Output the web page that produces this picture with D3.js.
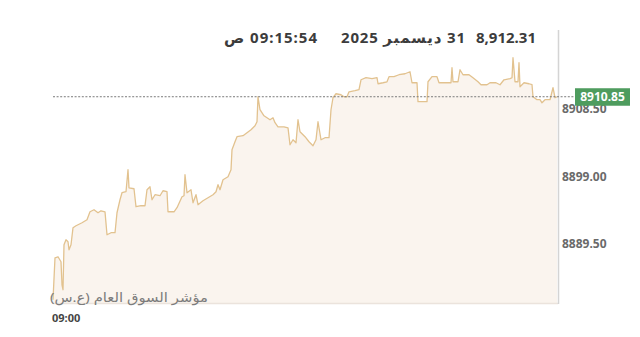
<!DOCTYPE html>
<html>
<head>
<meta charset="utf-8">
<script src="https://cdn.jsdelivr.net/npm/d3@7"></script>
<style>
    body { margin: 0; background: #ffffff; }
    text { font-family: "Noto Sans", "DejaVu Sans", sans-serif; }
</style>
</head>
<body>
<div id="canvas"></div>
<script>
"use strict"

/*Canvas size*/
let svgWidth = 640;
let svgHeight = 337;

/*Plot box*/
let plotLeft = 53
let plotRight = 557
let plotTop = 30
let plotBottom = 303

/*Seconds after 09:00:00 for every price tick*/
let tickSeconds = [0, 4, 10, 16, 18, 20, 22, 26, 30, 32, 36, 40, 46, 58, 68, 74, 82, 90, 96, 104,
    108, 116, 124, 128, 134, 138, 146, 150, 152, 162, 166, 176, 184, 188, 194, 198, 204, 214, 220, 228,
    230, 242, 248, 258, 262, 264, 268, 276, 280, 286, 290, 300, 310, 320, 326, 330, 334, 340, 350, 356,
    358, 364, 368, 380, 388, 396, 404, 408, 410, 414, 422, 428, 434, 440, 444, 450, 462, 470, 474, 480,
    486, 490, 494, 504, 512, 520, 526, 530, 536, 544, 552, 556, 560, 566, 576, 582, 588, 592, 604, 612,
    616, 626, 638, 648, 650, 660, 668, 672, 682, 692, 704, 714, 718, 728, 730, 738, 748, 750, 758, 768,
    772, 784, 796, 798, 800, 810, 814, 820, 832, 840, 850, 856, 868, 874, 886, 894, 902, 914, 918, 920,
    924, 930, 932, 934, 942, 952, 958, 960, 968, 974, 978, 984, 994, 1000, 1004, 1008];

/*Index value at each tick*/
let indexValues = [8882.26, 8888.17, 8888.31, 8887.61, 8884.37, 8883.67, 8890.00, 8890.71, 8890.43, 8889.30,
    8890.00, 8892.40, 8892.68, 8893.10, 8893.53, 8894.65, 8894.93, 8894.51, 8894.79, 8894.65,
    8891.41, 8891.70, 8891.70, 8894.51, 8896.34, 8897.33, 8897.47, 8900.57, 8898.03, 8897.89,
    8895.36, 8895.50, 8895.50, 8897.75, 8898.17, 8896.34, 8897.05, 8896.91, 8897.61, 8897.47,
    8894.65, 8894.65, 8895.22, 8896.77, 8896.91, 8899.86, 8897.33, 8897.75, 8895.92, 8897.05,
    8895.64, 8896.20, 8896.62, 8897.05, 8897.47, 8898.46, 8897.75, 8899.16, 8899.58, 8900.57,
    8903.39, 8904.51, 8905.22, 8905.36, 8905.78, 8906.20, 8906.77, 8907.33, 8910.85, 8909.02,
    8908.17, 8907.89, 8907.61, 8907.89, 8907.19, 8906.62, 8906.62, 8906.48, 8904.09, 8904.79,
    8904.37, 8907.61, 8905.92, 8905.22, 8904.51, 8903.95, 8904.79, 8907.33, 8904.79, 8905.08,
    8905.08, 8909.02, 8910.71, 8911.27, 8911.13, 8910.85, 8910.85, 8911.55, 8911.70, 8911.84,
    8913.24, 8913.53, 8913.39, 8913.53, 8912.68, 8912.82, 8912.96, 8913.67, 8913.67, 8913.95,
    8914.09, 8914.37, 8912.82, 8912.82, 8910.15, 8910.15, 8910.15, 8912.96, 8913.67, 8913.67,
    8912.82, 8912.82, 8912.82, 8914.93, 8912.96, 8912.96, 8914.65, 8913.95, 8913.95, 8913.53,
    8912.96, 8912.54, 8912.54, 8912.82, 8912.82, 8912.54, 8913.24, 8913.39, 8913.53, 8916.34,
    8912.96, 8912.96, 8915.64, 8912.26, 8912.82, 8912.68, 8912.54, 8910.85, 8910.43, 8910.43,
    8910.00, 8910.43, 8910.43, 8912.12, 8910.71, 8910.85];

/*Axis labels*/
let yTicks = [8889.50, 8899.00, 8908.50];
let xTickLabel = "09:00";
let lastValue = 8910.85;

/*Header texts*/
let headerValue = "8,912.31";
let headerDate = "31 ديسمبر 2025";
let headerTime = "09:15:54 ص";
let indexName = "مؤشر السوق العام (ع.س)";

let dataset = tickSeconds.map(function (s, i) {
    return { sec: s, value: indexValues[i] };
});

let svg = d3.select("#canvas")
    .append("svg")
    .attr("width", svgWidth)
    .attr("height", svgHeight);

/*Scales*/
let xScale = d3.scaleLinear()
    .domain([0, d3.max(tickSeconds)])
    .range([plotLeft, plotRight]);

let yScale = d3.scaleLinear()
    .domain([8881.8, 8920.25])
    .range([plotBottom, plotTop]);

/*Area under the line*/
let area = d3.area()
    .x(function (d) { return xScale(d.sec); })
    .y0(plotBottom)
    .y1(function (d) { return yScale(d.value); });

svg.append("path")
    .datum(dataset)
    .attr("d", area)
    .attr("fill", "#faf4ee");

/*Bottom edge of the plot*/
svg.append("line")
    .attr("x1", plotLeft)
    .attr("x2", plotRight + 1)
    .attr("y1", plotBottom + 0.5)
    .attr("y2", plotBottom + 0.5)
    .attr("stroke", "#ebe3dc")
    .attr("stroke-width", 1.5);

/*Price line*/
let line = d3.line()
    .x(function (d) { return xScale(d.sec); })
    .y(function (d) { return yScale(d.value); });

svg.append("path")
    .datum(dataset)
    .attr("d", line)
    .attr("fill", "none")
    .attr("stroke", "#e2c28f")
    .attr("stroke-width", 1.3)
    .attr("stroke-linejoin", "round");

/*Right border*/
svg.append("line")
    .attr("x1", plotRight + 1.5)
    .attr("x2", plotRight + 1.5)
    .attr("y1", plotTop)
    .attr("y2", plotBottom + 1)
    .attr("stroke", "#d4d4d4")
    .attr("stroke-width", 1.5);

/*Y tick labels*/
for (let i = 0; i < yTicks.length; i++) {
    svg.append("text")
        .attr("x", plotRight + 5)
        .attr("y", yScale(yTicks[i]))
        .style("font-size", "12px")
        .style("font-weight", "bold")
        .attr("fill", "#6a6a6a")
        .text(yTicks[i].toFixed(2));
}

/*Dashed line at the last value*/
svg.append("line")
    .attr("x1", plotLeft)
    .attr("x2", 576)
    .attr("y1", yScale(lastValue))
    .attr("y2", yScale(lastValue))
    .attr("stroke", "#7a7a7a")
    .attr("stroke-width", 1)
    .attr("stroke-dasharray", "2,1.6");

/*Green last value label, it hides the top of the 8908.50 label like the original*/
svg.append("rect")
    .attr("x", 575)
    .attr("y", yScale(lastValue) - 8.5)
    .attr("width", 55)
    .attr("height", 17.5)
    .attr("fill", "#4e9c5e");

svg.append("text")
    .attr("x", 602.5)
    .attr("y", yScale(lastValue) + 4.5)
    .style("text-anchor", "middle")
    .style("font-size", "12px")
    .style("font-weight", "bold")
    .attr("fill", "#ffffff")
    .text(lastValue.toFixed(2));

/*Index name*/
svg.append("text")
    .attr("x", 208)
    .attr("y", 302)
    .attr("direction", "rtl")
    .style("text-anchor", "start")
    .style("font-size", "13px")
    .attr("textLength", 158)
    .attr("lengthAdjust", "spacingAndGlyphs")
    .attr("fill", "#7c7c7c")
    .text(indexName);

/*X label*/
svg.append("text")
    .attr("x", plotLeft - 1)
    .attr("y", 322)
    .style("font-size", "11px")
    .style("font-weight", "bold")
    .attr("fill", "#444444")
    .text(xTickLabel);

/*Header*/
let headerParts = [
    { t: headerValue, x: 536, w: null },
    { t: headerDate, x: 465, w: 124 },
    { t: headerTime, x: 317, w: 93 }
];
headerParts.forEach(function (p) {
    let t = svg.append("text")
        .attr("x", p.x)
        .attr("y", 43)
        .attr("direction", "rtl")
        .style("text-anchor", "start")
        .style("font-size", "15px")
        .style("font-weight", "bold")
        .attr("fill", "#3c3c3c")
        .text(p.t);
    if (p.w) {
        t.attr("textLength", p.w).attr("lengthAdjust", "spacing");
    }
});
</script>
</body>
</html>
